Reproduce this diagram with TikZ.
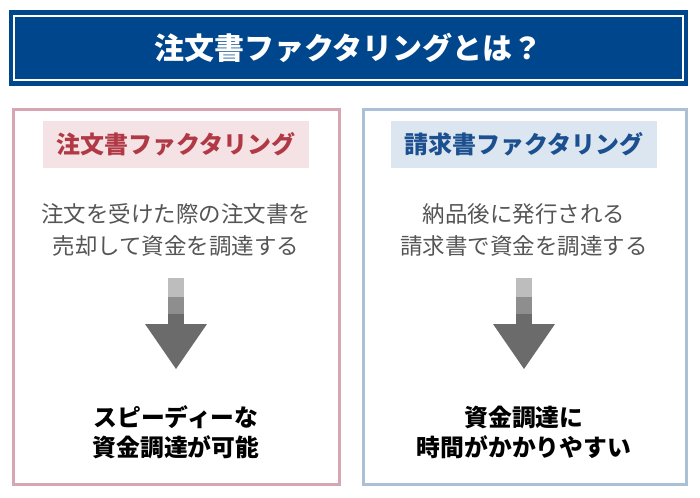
\documentclass[tikz,border=0pt]{standalone}
\usepackage{fontspec}
\newfontfamily\cjk{Noto Sans CJK JP}
\definecolor{titleblue}{HTML}{00468C}
\definecolor{pinkline}{HTML}{D6A7B3}
\definecolor{pinkfill}{HTML}{F4E2E4}
\definecolor{redtext}{HTML}{B13845}
\definecolor{blueline}{HTML}{A9C0D6}
\definecolor{bluefill}{HTML}{DCE6F1}
\definecolor{bluetext}{HTML}{1C4F8F}
\definecolor{desctext}{HTML}{555555}
\definecolor{arrA}{HTML}{BDBDBD}
\definecolor{arrB}{HTML}{8E8E8E}
\definecolor{arrC}{HTML}{6B6B6B}
\tikzset{
  panel/.style={draw, line width=3pt},
  labelbox/.style={inner sep=0pt, font=\cjk\bfseries\fontsize{24}{28}\selectfont},
  desc/.style={align=center, text=desctext, font=\cjk\fontsize{22.5}{32}\selectfont},
  result/.style={align=center, text=black, font=\cjk\bfseries\fontsize{23.8}{30}\selectfont},
}
\begin{document}
\begin{tikzpicture}[x=1pt,y=-1pt]
\useasboundingbox (0,0) rectangle (700,497);
% title bar
\fill[titleblue] (9,10) rectangle (688,86);
\draw[white, line width=1.5pt] (14,16) rectangle (683,80);
\node[text=white, font=\cjk\bfseries\fontsize{30}{34}\selectfont] (title) at (348.5,48) {注文書ファクタリングとは？};

% left panel
\draw[panel, pinkline] (13,110) rectangle (339,484);
\fill[pinkfill] (43,121) rectangle (309,168);
\node[labelbox, text=redtext] (llabel) at (176,144.5) {注文書ファクタリング};
\node[desc] (ldesc) at (176,230) {注文を受けた際の注文書を\\売却して資金を調達する};
\fill[arrA] (168,278) rectangle (184,297);
\fill[arrB] (168,297) rectangle (184,314);
\fill[arrC] (168,314) rectangle (184,325);
\fill[arrC] (145,324) -- (207,324) -- (176,369) -- cycle;
\node[result] (lres) at (176,432) {スピーディーな\\資金調達が可能};

% right panel
\draw[panel, blueline] (363,110) rectangle (686,484);
\fill[bluefill] (391,121) rectangle (657,168);
\node[labelbox, text=bluetext] (rlabel) at (524,144.5) {請求書ファクタリング};
\node[desc] (rdesc) at (524,230) {納品後に発行される\\請求書で資金を調達する};
\fill[arrA] (516,278) rectangle (532,297);
\fill[arrB] (516,297) rectangle (532,314);
\fill[arrC] (516,314) rectangle (532,325);
\fill[arrC] (493,324) -- (555,324) -- (524,369) -- cycle;
\node[result] (rres) at (524,432) {資金調達に\\時間がかかりやすい};
\end{tikzpicture}
\end{document}
